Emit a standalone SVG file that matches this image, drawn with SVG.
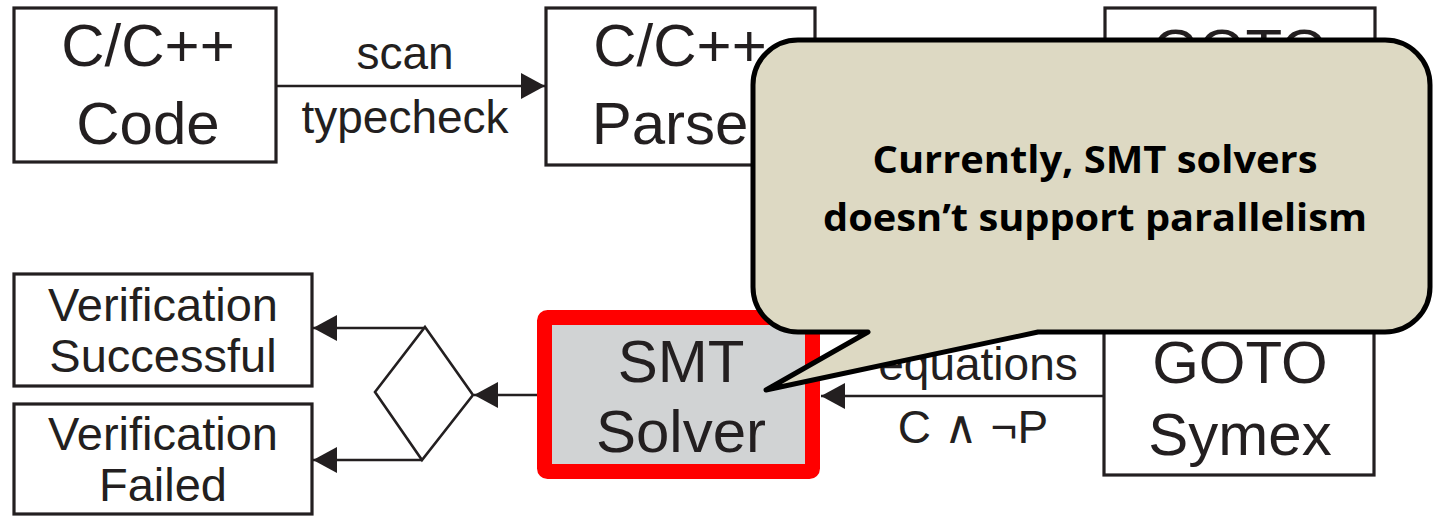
<svg xmlns="http://www.w3.org/2000/svg" width="1435" height="516" viewBox="0 0 1435 516">
<style>
.box{fill:#fff;stroke:#231f20;stroke-width:3.2}
.lbl{font-family:"Liberation Sans",Arial,sans-serif;font-size:60px;fill:#231f20;text-anchor:middle}
.elbl{font-family:"Liberation Sans",Arial,sans-serif;font-size:46px;fill:#231f20;text-anchor:middle}
.vlbl{font-family:"Liberation Sans",Arial,sans-serif;font-size:47px;fill:#231f20;text-anchor:middle}
.conn{fill:none;stroke:#231f20;stroke-width:2.6;marker-end:url(#ah)}
.call{font-family:"Open Sans","Noto Sans",sans-serif;font-weight:bold;font-size:38px;fill:#000;text-anchor:middle}
</style>
<defs>
<marker id="ah" markerUnits="userSpaceOnUse" markerWidth="24" markerHeight="26" refX="24" refY="13" orient="auto">
<path d="M0,0 L24,13 L0,26 Z" fill="#231f20"/>
</marker>
</defs>
<rect width="1435" height="516" fill="#fff"/>

<g id="connectors">
<line class="conn" x1="276" y1="86" x2="545" y2="86"/>
<line class="conn" x1="1104" y1="396" x2="821" y2="396"/>
<line class="conn" x1="537" y1="395" x2="474" y2="395"/>
<line class="conn" x1="425" y1="328" x2="313" y2="328"/>
<line class="conn" x1="422" y1="460" x2="313" y2="460"/>
<text class="elbl" x="405" y="69">scan</text>
<text class="elbl" x="405" y="133">typecheck</text>
<text class="elbl" x="978" y="380">equations</text>
<text class="elbl" x="973" y="443">C ∧ ¬P</text>
</g>

<g id="node-code">
<rect class="box" x="14" y="8" width="262" height="154"/>
<text class="lbl" x="148" y="66">C/C++</text>
<text class="lbl" x="148" y="144">Code</text>
</g>

<g id="node-parser">
<rect class="box" x="546" y="8" width="269" height="157"/>
<text class="lbl" x="680" y="66">C/C++</text>
<text class="lbl" x="680" y="144">Parser</text>
</g>

<g id="node-goto-program">
<rect class="box" x="1105" y="8" width="270" height="157"/>
<text class="lbl" x="1240" y="71">GOTO</text>
</g>

<g id="node-goto-symex">
<rect class="box" x="1104" y="250" width="270" height="225"/>
<text class="lbl" x="1240" y="383">GOTO</text>
<text class="lbl" x="1240" y="455">Symex</text>
</g>

<g id="node-smt">
<rect x="544.5" y="317.5" width="268" height="154" rx="3" fill="#d1d3d4" stroke="#ff0000" stroke-width="15"/>
<text class="lbl" x="681" y="382">SMT</text>
<text class="lbl" x="681" y="452">Solver</text>
</g>

<g id="node-decision">
<polygon points="425,327 473,395 422,460 375,392" fill="#fff" stroke="#231f20" stroke-width="2.6"/>
</g>

<g id="node-success">
<rect class="box" x="14" y="274" width="298" height="112"/>
<text class="vlbl" x="163" y="321">Verification</text>
<text class="vlbl" x="163" y="372">Successful</text>
</g>

<g id="node-failed">
<rect class="box" x="14" y="404" width="298" height="110"/>
<text class="vlbl" x="163" y="450">Verification</text>
<text class="vlbl" x="163" y="501">Failed</text>
</g>

<g id="callout">
<path d="M798,40 H1385 A45,45 0 0 1 1430,85 V287 A45,45 0 0 1 1385,332 H1038 L766,390 L868,332 H798 A45,45 0 0 1 753,287 V85 A45,45 0 0 1 798,40 Z" fill="#ddd9c3" stroke="#000" stroke-width="5" stroke-linejoin="round"/>
<text class="call" x="1095" y="173" textLength="445" lengthAdjust="spacingAndGlyphs">Currently, SMT solvers</text>
<text class="call" x="1095" y="231" textLength="544" lengthAdjust="spacingAndGlyphs">doesn’t support parallelism</text>
</g>
</svg>
